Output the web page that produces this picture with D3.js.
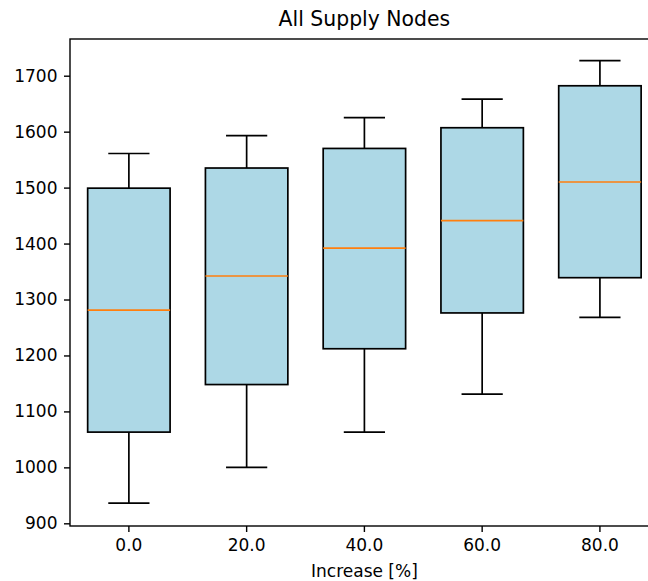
<!DOCTYPE html>
<html>
<head>
<meta charset="utf-8">
<script src="https://cdn.jsdelivr.net/npm/d3@7"></script>
<style>
  html, body { margin: 0; padding: 0; background: #fff; }
  svg { display: block; font-family: "DejaVu Sans", sans-serif; }
</style>
</head>
<body>
<svg id="chart" width="648" height="581"></svg>
<script>
const categories = ["0.0", "20.0", "40.0", "60.0", "80.0"];
const whiskerLow = [936, 1000, 1063, 1131, 1268];
const q1 = [1063, 1148, 1212, 1276, 1339];
const median = [1281, 1342, 1392, 1441, 1510];
const q3 = [1499, 1535, 1570, 1607, 1682];
const whiskerHigh = [1561, 1593, 1625, 1658, 1727];
const yTicks = [900, 1000, 1100, 1200, 1300, 1400, 1500, 1600, 1700];

(function () {
const svg = d3.select("#chart");
const mLeft = 70, mRight = 658.8, mTop = 39, mBottom = 526;
const LW = 1.7;

const x = d3.scaleBand().domain(categories).range([mLeft, mRight]).paddingInner(0).paddingOuter(0);
const y = d3.scaleLinear().domain([895.2, 1765.6]).range([mBottom, mTop]);

const boxW = x.bandwidth() * 0.7;
const capW = boxW / 2;

const data = categories.map((c, i) => ({
  c, lo: whiskerLow[i], q1: q1[i], med: median[i], q3: q3[i], hi: whiskerHigh[i]
}));

const g = svg.append("g");
const boxes = g.selectAll("g.box").data(data).join("g").attr("class", "box");
const cx = d => x(d.c) + x.bandwidth() / 2;

// whiskers
boxes.append("line").attr("x1", cx).attr("x2", cx)
  .attr("y1", d => y(d.q3)).attr("y2", d => y(d.hi))
  .attr("stroke", "#000").attr("stroke-width", LW);
boxes.append("line").attr("x1", cx).attr("x2", cx)
  .attr("y1", d => y(d.q1)).attr("y2", d => y(d.lo))
  .attr("stroke", "#000").attr("stroke-width", LW);
// caps
boxes.append("line").attr("x1", d => cx(d) - capW / 2).attr("x2", d => cx(d) + capW / 2)
  .attr("y1", d => y(d.hi)).attr("y2", d => y(d.hi))
  .attr("stroke", "#000").attr("stroke-width", LW);
boxes.append("line").attr("x1", d => cx(d) - capW / 2).attr("x2", d => cx(d) + capW / 2)
  .attr("y1", d => y(d.lo)).attr("y2", d => y(d.lo))
  .attr("stroke", "#000").attr("stroke-width", LW);
// box
boxes.append("rect")
  .attr("x", d => cx(d) - boxW / 2).attr("width", boxW)
  .attr("y", d => y(d.q3)).attr("height", d => y(d.q1) - y(d.q3))
  .attr("fill", "#add8e6").attr("stroke", "#000").attr("stroke-width", LW);
// median
boxes.append("line").attr("x1", d => cx(d) - boxW / 2).attr("x2", d => cx(d) + boxW / 2)
  .attr("y1", d => y(d.med)).attr("y2", d => y(d.med))
  .attr("stroke", "#ff7f0e").attr("stroke-width", LW);

// spines
svg.append("rect").attr("x", mLeft).attr("y", mTop).attr("width", mRight - mLeft).attr("height", mBottom - mTop)
  .attr("fill", "none").attr("stroke", "#000").attr("stroke-width", 1.4);

// axes
const yAxis = svg.append("g").attr("transform", `translate(${mLeft},0)`)
  .call(d3.axisLeft(y).tickValues(yTicks).tickSize(6).tickPadding(6.5).tickFormat(d3.format("d")));
const xAxis = svg.append("g").attr("transform", `translate(0,${mBottom})`)
  .call(d3.axisBottom(x).tickSize(6).tickPadding(7));
[yAxis, xAxis].forEach(a => {
  a.select(".domain").remove();
  a.selectAll("line").attr("stroke", "#000").attr("stroke-width", 1.4);
  a.selectAll("text").attr("fill", "#000").style("font-size", "17px").style("font-family", "DejaVu Sans, sans-serif");
});

svg.append("text").attr("x", (mLeft + mRight) / 2).attr("y", 25.5)
  .attr("text-anchor", "middle").style("font-size", "20.4px").attr("fill", "#000")
  .text("All Supply Nodes");
svg.append("text").attr("x", (mLeft + mRight) / 2).attr("y", 577)
  .attr("text-anchor", "middle").style("font-size", "17px").attr("fill", "#000")
  .text("Increase [%]");
})();
</script>
</body>
</html>
